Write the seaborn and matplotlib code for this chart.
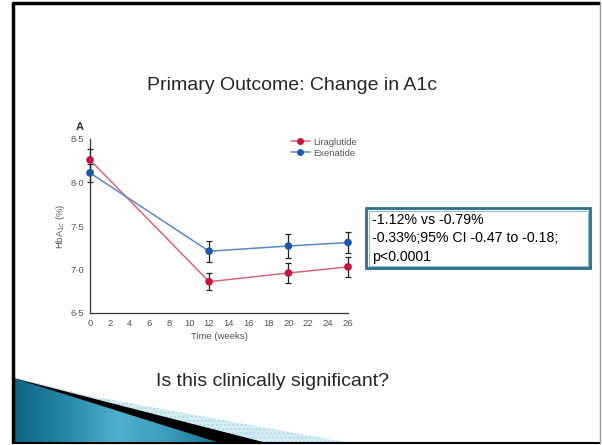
import numpy as np
import pandas as pd
import matplotlib
matplotlib.use('Agg')
import matplotlib.pyplot as plt
import seaborn as sns
from matplotlib.patches import Polygon, Rectangle
from matplotlib.lines import Line2D
from matplotlib.colors import LinearSegmentedColormap

# Data
weeks = [0, 12, 20, 26]
lira_mean = [8.26, 6.86, 6.96, 7.03]
lira_err = [0.12, 0.10, 0.11, 0.115]
exen_mean = [8.11, 7.21, 7.27, 7.31]
exen_err = [0.10, 0.12, 0.135, 0.12]
drugs = ['Liraglutide', 'Exenatide']
x_ticks = list(range(0, 27, 2))
y_ticks = [6.5, 7.0, 7.5, 8.0, 8.5]
y_tick_labels = ['6·5', '7·0', '7·5', '8·0', '8·5']

slide_title = 'Primary Outcome: Change in A1c'
box_lines = ['-1.12% vs -0.79%', '-0.33%;95% CI -0.47 to -0.18;', 'p<0.0001']
question = 'Is this clinically significant?'

# Colours
line_cols = {'Liraglutide': '#d9657c', 'Exenatide': '#5b88c4'}
mark_cols = {'Liraglutide': '#c8143c', 'Exenatide': '#1b5aa6'}

df = pd.DataFrame({
    'Week': weeks * 2,
    'HbA1c': lira_mean + exen_mean,
    'Err': lira_err + exen_err,
    'Drug': [drugs[0]] * len(weeks) + [drugs[1]] * len(weeks),
})

sns.set_style('white')
plt.rcParams['font.family'] = ['Liberation Sans', 'DejaVu Sans']

W, H = 602, 445
fig = plt.figure(figsize=(W / 100, H / 100), dpi=100)
fig.patch.set_facecolor('white')

# Background layer in pixel coordinates (slide frame + wedge)
bg = fig.add_axes([0, 0, 1, 1], zorder=0)
bg.set_xlim(0, W)
bg.set_ylim(H, 0)
bg.axis('off')

# decorative wedge: hatched ribbon, black ribbon, teal gradient
band = Polygon([(13, 377), (90, 396), (350, 443), (13, 443)], closed=True,
               facecolor='#d6ecf3', edgecolor='#b0d8e6', hatch='....', lw=0)
bg.add_patch(band)
black = Polygon([(13, 378), (60, 390), (267, 443), (13, 443)], closed=True,
                facecolor='black', edgecolor='none')
bg.add_patch(black)
teal_poly = Polygon([(13, 378), (220, 443), (13, 443)], closed=True,
                    facecolor='none', edgecolor='none')
bg.add_patch(teal_poly)
cmap = LinearSegmentedColormap.from_list(
    'teal', ['#0f6480', '#2387a6', '#4fb0cc', '#3a9dbb', '#12708c'])
grad = np.linspace(0, 1, 256).reshape(1, -1)
im = bg.imshow(grad, cmap=cmap, extent=[13, 220, 443, 378], aspect='auto', zorder=1)
im.set_clip_path(teal_poly)

# slide frame
bg.plot([13, 13], [2, 443], color='black', lw=2.5, solid_capstyle='butt')
bg.plot([12, 600], [3, 3], color='black', lw=2.5, solid_capstyle='butt')
bg.plot([12, 600], [443, 443], color='black', lw=1.5, solid_capstyle='butt')
bg.plot([600, 600], [2, 443], color='#9a9a9a', lw=1.0)

# text box
bg.add_patch(Rectangle((366, 208), 224, 60, facecolor='white',
                       edgecolor='#2c6f86', lw=2.0, zorder=3))
bg.add_patch(Rectangle((368.5, 210.5), 219, 55, facecolor='none',
                       edgecolor='#8bbccc', lw=0.7, zorder=3))
for i, t in enumerate(box_lines):
    bg.text(372, 220 + i * 18.5, t, fontsize=10.2, color='black',
            va='center', ha='left', zorder=4)

bg.text(292, 86, slide_title, fontsize=14, ha='center', va='center')
bg.text(273, 381, question, fontsize=14, ha='center', va='center', zorder=4)

# Chart axes
ax = fig.add_axes([90 / W, 1 - 313 / H, (348 - 90) / W, (313 - 139) / H], zorder=2)
ax.set_facecolor('none')

sns.lineplot(data=df, x='Week', y='HbA1c', hue='Drug', palette=line_cols,
             lw=1.1, ax=ax, legend=False, clip_on=False)
for d in drugs:
    sub = df[df['Drug'] == d]
    ax.errorbar(sub['Week'], sub['HbA1c'], yerr=sub['Err'], fmt='none',
                ecolor='#222222', elinewidth=0.9, capsize=2.5, capthick=0.9,
                clip_on=False, zorder=3)
sns.scatterplot(data=df, x='Week', y='HbA1c', hue='Drug', palette=mark_cols,
                s=30, edgecolor='none', ax=ax, legend=False, zorder=4, clip_on=False)

ax.set_xlim(0, 26)
ax.set_ylim(6.5, 8.5)
ax.set_xticks(x_ticks)
ax.set_yticks(y_ticks)
ax.set_yticklabels(y_tick_labels)
sns.despine(ax=ax)
for s in ['left', 'bottom']:
    ax.spines[s].set_color('#333333')
    ax.spines[s].set_linewidth(0.9)
ax.tick_params(axis='both', direction='inout', length=5, width=0.8,
               color='#333333', labelsize=6.8, labelcolor='#555555', pad=1.5)
ax.set_xlabel('Time (weeks)', fontsize=6.8, color='#555555', labelpad=3)
ax.set_ylabel('HbA$_{1c}$ (%)', fontsize=6.8, color='#555555', labelpad=3)
ax.text(-0.04, 1.07, 'A', transform=ax.transAxes, fontsize=8,
        fontweight='bold', color='#333333', ha='center', va='center')

handles = [Line2D([0], [0], color=line_cols[d], lw=1.1, marker='o', markersize=4,
                  markerfacecolor=mark_cols[d], markeredgecolor=mark_cols[d])
           for d in drugs]
fig.legend(handles, drugs, loc='upper left', bbox_to_anchor=(286 / W, 1 - 133 / H),
           frameon=False, fontsize=6.8, handlelength=2.0, handletextpad=0.4,
           labelspacing=0.2, borderpad=0, labelcolor='#555555')

fig.savefig('out.png', dpi=100)
